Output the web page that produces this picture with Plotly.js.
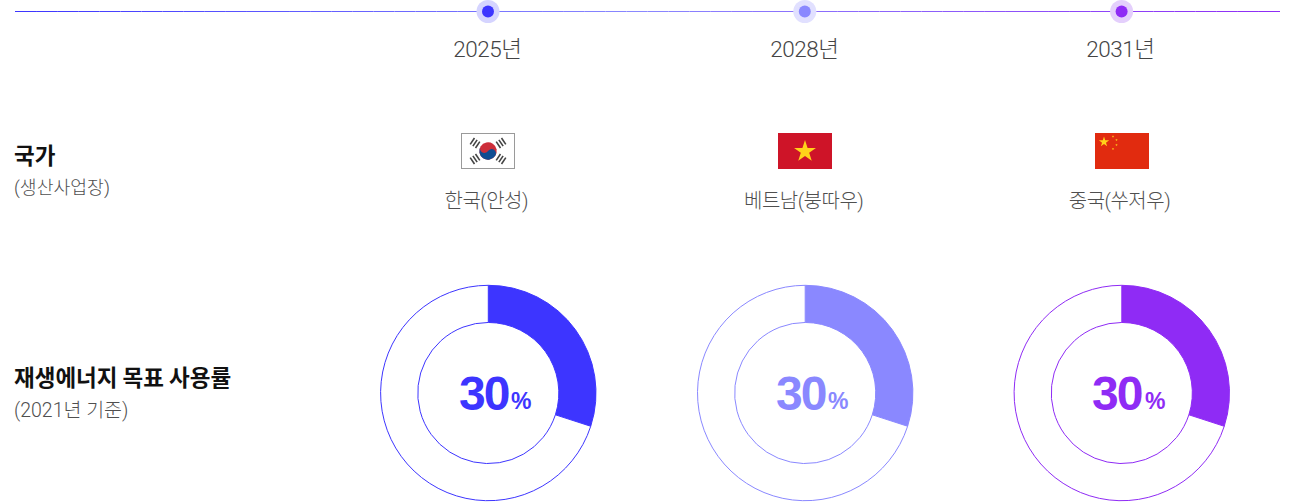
<!DOCTYPE html>
<html><head><meta charset="utf-8">
<script src="https://cdn.plot.ly/plotly-3.0.1.min.js"></script>
<style>html,body{margin:0;padding:0;background:#fff;overflow:hidden}#c{width:1289px;height:502px}</style>
</head><body><div id="c"></div>
<script>
const years=[2025,2028,2031];
const yearLabels=['2025년','2028년','2031년'];
const countries=['한국(안성)','베트남(붕따우)','중국(쑤저우)'];
const shares=[30,30,30];
const rest=[70,70,70];
const colors=['#3D35FF','#8A88FF','#8F2BF5'];
const halos=['#D5D4FF','#E1E0FF','#E4CFFC'];
const rowTitles=['국가','재생에너지 목표 사용률'];
const rowSubs=['(생산사업장)','(2021년 기준)'];
const W=1289,H=502;
const bold='"Liberation Sans","Noto Sans CJK KR",sans-serif';
const light='Roboto,"Noto Sans CJK KR",sans-serif';
const kr='"Noto Sans CJK KR","Liberation Sans",sans-serif';
const pxPerYear=105.6, x0=2025-488/pxPerYear;
const yearOf=p=>x0+p/pxPerYear;

function svg(s){return 'data:image/svg+xml;base64,'+btoa(s);}
const star=(cx,cy,r)=>{let p=[];for(let i=0;i<10;i++){const a=-Math.PI/2+i*Math.PI/5,q=i%2?r*0.382:r;p.push((cx+q*Math.cos(a)).toFixed(2)+','+(cy+q*Math.sin(a)).toFixed(2));}return `<polygon points="${p.join(' ')}" fill="#FFD21A"/>`;};
const trig=(cx,cy,deg)=>`<g transform="translate(${cx} ${cy}) rotate(${deg})" fill="#444"><rect x="-3.8" y="-4" width="7.6" height="1.6"/><rect x="-3.8" y="-.8" width="7.6" height="1.6"/><rect x="-3.8" y="2.4" width="7.6" height="1.6"/></g>`;
const flagK=svg(`<svg xmlns="http://www.w3.org/2000/svg" width="54" height="36" viewBox="0 0 54 36"><rect x=".5" y=".5" width="53" height="35" fill="#fff" stroke="#9a9a9a"/>${trig(14,10,-56)}${trig(40,10,56)}${trig(14,26,56)}${trig(40,26,-56)}<g transform="rotate(33.7 27 18)"><circle cx="27" cy="18" r="8.7" fill="#CD2E3A"/><path d="M18.3 18a8.7 8.7 0 0 0 17.4 0a4.35 4.35 0 0 0-8.7 0a4.35 4.35 0 0 1-8.7 0z" fill="#0F4C92"/></g></svg>`);
const flagV=svg(`<svg xmlns="http://www.w3.org/2000/svg" width="54" height="36" viewBox="0 0 54 36"><rect width="54" height="36" fill="#CE1428"/>${star(27,18.5,11.5)}</svg>`);
const flagC=svg(`<svg xmlns="http://www.w3.org/2000/svg" width="54" height="36" viewBox="0 0 54 36"><rect width="54" height="36" fill="#E12B0F"/>${star(9,9,5.4)}${star(18,3.4,1.3)}${star(21.5,7,1.3)}${star(21.5,12,1.3)}${star(18,16,1.3)}</svg>`);
const flags=[flagK,flagV,flagC];

const cxs=[488.3,805.2,1121.8];
const data=[];
years.forEach((y,i)=>{
  const cx=cxs[i]; const r=107.7;
  data.push({type:'pie',values:[shares[i],rest[i]],sort:false,direction:'clockwise',rotation:0,hole:0.655,
    textinfo:'none',hoverinfo:'skip',showlegend:false,
    marker:{colors:[colors[i],'#ffffff'],line:{color:colors[i],width:1}},
    domain:{x:[(cx-r)/W,(cx+r)/W],y:[1-(393+r)/H,1-(393-r)/H]}});
});
// timeline: short pieces that carry the blue -> periwinkle -> violet fade
const stops=[[15,[61,53,255]],[640,[138,136,255]],[1280,[143,43,245]]];
const mix=(a,b,f)=>a.map((v,k)=>Math.round(v+(b[k]-v)*f));
const N=60;
for(let s=0;s<N;s++){
  const a=15+(1265*s)/N,b=15+(1265*(s+1))/N,m=(a+b)/2;
  const st=m<stops[1][0]?0:1;
  const c=mix(stops[st][1],stops[st+1][1],(m-stops[st][0])/(stops[st+1][0]-stops[st][0]));
  data.push({type:'scatter',mode:'lines',x:[yearOf(a),yearOf(b)],y:[11.5,11.5],
    line:{color:`rgb(${c})`,width:1},hoverinfo:'skip',showlegend:false});
}
data.push({type:'scatter',mode:'markers',x:years,y:[11.5,11.5,11.5],
  marker:{size:23,color:halos,line:{width:0}},hoverinfo:'skip',showlegend:false});
data.push({type:'scatter',mode:'markers',x:years,y:[11.5,11.5,11.5],
  marker:{size:12,color:colors,line:{width:0}},hoverinfo:'skip',showlegend:false});

const ann=[];
const t=(x,y,text,size,color,anchor,family,weight)=>ann.push({xref:'x',yref:'y',x:yearOf(x),y,text,showarrow:false,
  xanchor:anchor||'center',yanchor:'middle',font:{size,color,family:family||light,weight:weight||300},borderpad:0,borderwidth:0});
years.forEach((y,i)=>{
  const cx=cxs[i];
  t(cx-1,49,yearLabels[i],22.5,'#444',null,light,300);
  t(cx-2.2,201,countries[i],20,'#4f4f4f',null,light,300);
  t(cx-5,393,shares[i],48,colors[i],null,bold,700);
  t(cx+32.7,401,'%',23,colors[i],null,bold,700);
});
t(14,154,rowTitles[0],22.5,'#111','left',kr,700);
t(14,188,rowSubs[0],18.3,'#4f4f4f','left',light,300);
t(14,376,rowTitles[1],22.5,'#111','left',kr,700);
t(14,410,rowSubs[1],19.5,'#4f4f4f','left',light,300);

const images=flags.map((src,i)=>({source:src,xref:'x',yref:'y',x:yearOf([461,778,1095][i]),y:133,
  sizex:54/pxPerYear,sizey:36,xanchor:'left',yanchor:'top',sizing:'stretch',layer:'above'}));

Plotly.newPlot('c',data,{width:W,height:H,margin:{l:0,r:0,t:0,b:0,pad:0},paper_bgcolor:'#fff',plot_bgcolor:'rgba(0,0,0,0)',
  showlegend:false,
  xaxis:{range:[x0,x0+W/pxPerYear],visible:false,fixedrange:true},
  yaxis:{range:[H,0],visible:false,fixedrange:true},
  annotations:ann,images},{displayModeBar:false,staticPlot:true}).then(()=>{
  document.querySelectorAll('.annotation-text').forEach(e=>{
    const s=parseFloat(e.style.fontSize)||20;
    if(s>40) e.style.letterSpacing='-2px';
    else if(s==20||s==22.5&&!e.textContent.match(/[가-힣]{2}/)) e.style.letterSpacing='-0.5px';
  });
});
</script></body></html>
